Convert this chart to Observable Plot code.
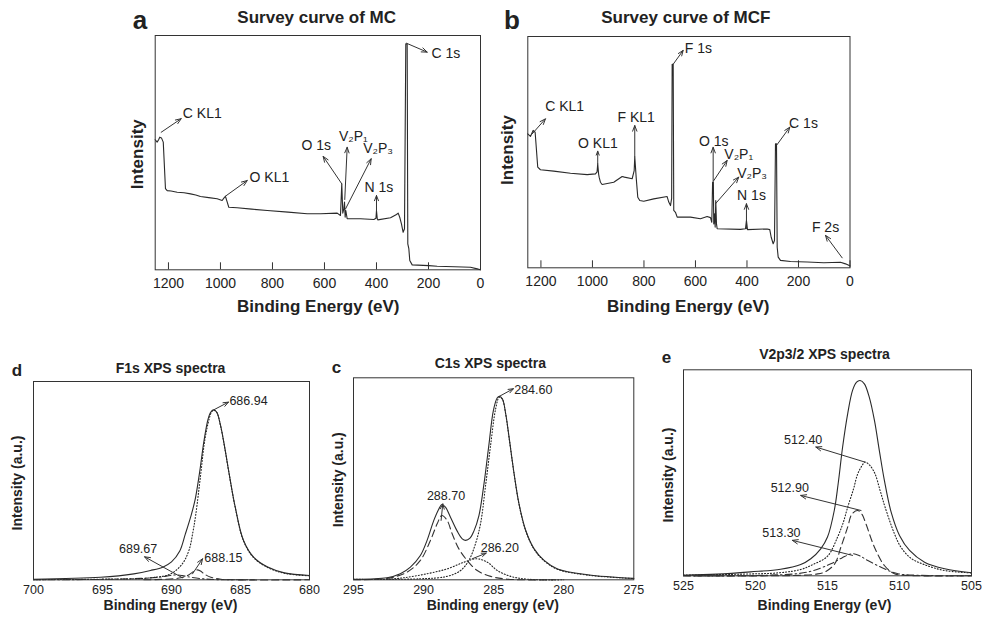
<!DOCTYPE html>
<html>
<head>
<meta charset="utf-8">
<script src="https://cdn.jsdelivr.net/npm/d3@7"></script>
<script src="https://cdn.jsdelivr.net/npm/@observablehq/plot@0.6"></script>
<style>
  html, body { margin: 0; padding: 0; background: #fff; }
  #fig { position: relative; width: 982px; height: 620px; overflow: hidden; background: #fff; }
  #fig .panel { position: absolute; }
  #fig svg.captions { position: absolute; left: 0; top: 0; pointer-events: none; }
</style>
</head>
<body>
<div id="fig"></div>
<script>
// ---------------------------------------------------------------------------
// Survey spectra: [binding energy (eV), intensity (arb. units, 0-100)]
// ---------------------------------------------------------------------------
const surveyMC = [
  [1251,55.5],[1243.5,54.5],[1238,55.5],[1233.5,56.6],[1227,56.3],[1220,54.5],[1211.5,34.6],[1205,33.8],
  [1190,33.6],[1166.5,33.1],[1140,32.9],[1115,32.4],[1095,31.9],[1077,31.3],[1045,30.8],[1012.7,30.3],
  [993.5,29.6],[987,30.6],[981,31.4],[974,28.9],[968,26.7],[936,26.5],[880,25.9],[820,25.3],[740,24.6],
  [666.5,23.9],[615,23.9],[551,24.2],[538.5,23.2],[533.5,36.7],[529.6,24.2],[525.6,26],[523,28.9],
  [520.5,22.5],[518,25.3],[512.7,21.8],[461.5,21.8],[410,21.5],[402,22],[400,25.3],[397,21.8],[395,21.3],
  [346,22.2],[323,23.6],[316.5,24.2],[310,22.2],[304,19.6],[297.5,16],[292.3,17.5],[287.3,96.5],
  [282,96.4],[279.6,11.1],[275.6,9],[272,4],[262.7,2.1],[198.7,1.8],[166.7,1.5],[100,1.3],[38.5,1.1],
  [12.7,0.4],[0,0]
];

const surveyMCF = [
  [1251.3,57.9],[1240.8,56.8],[1230.3,59.4],[1222.5,58.6],[1212.4,43.5],[1201.9,42.4],[1150.3,41.8],
  [1085.4,40.9],[1020.6,40.3],[988.3,40.6],[982,41.5],[979.5,45],[976,40.5],[974,39.2],[969,37],
  [962.4,36],[917.3,37],[884.7,39.5],[875.7,39.2],[845.8,38.5],[838,42],[835.7,48],[832,42],[830.3,39.2],
  [824,30.5],[816.3,29.1],[800.8,28.8],[762,29.8],[710,30.8],[703.7,28.4],[697,26.9],[692.5,30],
  [690.5,88],[686.5,88],[684.3,24.8],[677.7,24],[671,21.9],[619.4,21.9],[580.6,21.2],[554.6,22.2],
  [541.7,21.7],[536.7,19.7],[533.5,37],[530.5,37],[529,19],[526.2,23.3],[523.5,17.6],[521.2,29.1],
  [518.4,19],[515.7,16.9],[425.2,16.6],[405.8,16.9],[402,20.4],[398,16.5],[321.6,16.8],[311.5,16.5],
  [306,13.2],[298.3,10.4],[293.2,11.8],[289.3,53.6],[285.4,53.6],[282.7,8.9],[278.8,4.6],[270,3.2],
  [231,2.7],[166.2,2.5],[101.7,2.2],[36.9,2.4],[17.5,1.7],[0.8,0.9]
];

// Peak assignments: arrow from the peak to the label, label centre
const surveyMCNotes = [
  {text: "C KL1", from: [1228, 58.7],  to: [1151, 64.5],  at: [1070, 66.6]},
  {text: "O KL1", from: [981, 31.4],   to: [897, 38.1],   at: [812, 39.5]},
  {text: "O 1s",  from: [533.5, 36.7], to: [605, 48.4],   at: [631.5, 53]},
  {text: "V₂P₁",  from: [522, 30],     to: [512.7, 52.3], at: [489, 56.9]},
  {text: "V₂P₃",  from: [519, 26],     to: [420.4, 47.4], at: [394, 51.6]},
  {text: "N 1s",  from: [400, 24.6],   to: [400, 31.7],   at: [391, 35]},
  {text: "C 1s",  from: [284.6, 96.7], to: [205, 92.9],   at: [133.5, 92.2]}
];

const surveyMCFNotes = [
  {text: "C KL1", from: [1234, 57.9],  to: [1182.5, 64.4], at: [1108, 69.7]},
  {text: "O KL1", from: [979.5, 45],   to: [979.5, 50.4],  at: [979, 53.6]},
  {text: "F KL1", from: [835.7, 48],   to: [835.7, 61.5],  at: [830, 64.8]},
  {text: "F 1s",  from: [686.6, 88],   to: [647.8, 94],    at: [589, 94.7]},
  {text: "O 1s",  from: [531.3, 37],   to: [531.3, 52.1],  at: [529, 54.7]},
  {text: "V₂P₁",  from: [529, 37.7],   to: [477, 46.4],    at: [432, 49]},
  {text: "V₂P₃",  from: [522.3, 27.7], to: [432, 39.2],    at: [380, 40.9]},
  {text: "N 1s",  from: [402, 16.9],   to: [402, 27.7],    at: [382.5, 31.3]},
  {text: "C 1s",  from: [285.4, 52.9], to: [233.8, 60.8],  at: [180.6, 62.3]},
  {text: "F 2s",  from: [30.3, 4.3],   to: [95, 14],       at: [95, 17.6]}
];

const surveyTicks = [1200, 1000, 800, 600, 400, 200, 0];

// ---------------------------------------------------------------------------
// F1s high-resolution spectrum and fitted components
// ---------------------------------------------------------------------------
const f1sEnvelope = [
  [700,0.3],[695.15,1.3],[692.73,3.0],[691.52,4.7],[690.6,6.5],[690.0,9],[689.4,14.5],[689.0,23],
  [688.6,32],[688.3,40],[687.98,53.4],[687.64,70.3],[687.35,81],[687.15,84.6],[686.94,85.7],
  [686.72,84.5],[686.45,78],[686.15,67],[685.82,53.4],[685.38,36.6],[684.78,19.8],[684.05,11.4],
  [683.03,6.4],[681.82,3.5],[680,2.2]
];
const f1s68694 = [
  [700,0.1],[695.15,0.3],[691.52,1],[690.06,3],[689.21,8.1],[688.73,15],[688.45,24],[688.24,33],
  [687.88,53.4],[687.59,70.3],[687.27,81.2],[687.1,84.6],[686.94,85.5],[686.72,84.4],[686.45,77.8],
  [686.15,66.8],[685.82,53.2],[685.38,36.4],[684.78,19.6],[684.05,11.2],[683.03,6.2],[681.82,3.3],[680,2]
];
const f1s68815 = [
  [692,0],[690.8,0.2],[689.33,1],[688.73,2.6],[688.4,4.2],[688.15,5],[687.9,4.4],[687.64,3],
  [687.15,1.3],[686.42,0.3],[685.5,0],[680,0]
];
const f1s68967 = [
  [700,0],[695.15,0.2],[692.24,0.7],[690.8,1.4],[690.1,2.2],[689.67,2.5],[689.2,2.1],[688.85,1.6],
  [687.88,0.6],[686.67,0.1],[684,0]
];
const f1sNotes = [
  {value: 686.94, from: [686.94, 85.7], to: [685.87, 89.6], at: [684.42, 90.1]},
  {value: 689.67, from: [689.2, 1],     to: [691.95, 11.6], at: [692.42, 15.4]},
  {value: 688.15, from: [688.48, 3],    to: [687.75, 10.6], at: [686.24, 11.2]}
];
const f1sTicks = [700, 695, 690, 685, 680];

// ---------------------------------------------------------------------------
// C1s high-resolution spectrum and fitted components
// ---------------------------------------------------------------------------
const c1sEnvelope = [
  [295,0.3],[292.61,1],[291.66,3],[290.94,6.3],[290.23,12],[289.75,19.5],[289.27,29.4],[288.91,35.1],
  [288.7,37.3],[288.44,36],[288.08,31],[287.6,24.1],[287.24,20.3],[287,19.5],[286.69,20.6],[286.41,24.1],
  [286.05,31.8],[285.69,47.5],[285.33,67.3],[285.02,83.8],[284.74,90.1],[284.6,90.8],[284.38,89.6],
  [284.14,82.2],[283.9,70.6],[283.54,52.5],[283.19,37.6],[282.71,24.4],[282.11,15.3],[281.4,9.6],
  [280.44,5.4],[278.29,2.5],[275,0.7]
];
const c1s28460 = [
  [295,0.2],[290.23,0.5],[288.32,1.7],[287.36,4.6],[286.77,9.6],[286.29,18],[285.93,28],[285.57,47],
  [285.21,67],[284.86,84.5],[284.6,90.4],[284.38,89.4],[284.14,82],[283.9,70.4],[283.54,52.3],
  [283.19,37.4],[282.71,24.2],[282.11,15.1],[281.4,9.4],[280.44,5.2],[278.29,2.3],[275,0.6]
];
const c1s28870 = [
  [295,0.1],[292.61,0.7],[291.18,3.8],[290.23,9.6],[289.51,19.5],[289.03,27.7],[288.7,31.8],
  [288.32,29.4],[287.96,22.8],[287.48,15.3],[286.89,9.6],[286.17,4.6],[285.21,1.7],[284.02,0.3],[280.68,0]
];
const c1s28620 = [
  [292.5,0.3],[291.42,1],[289.75,3],[288.32,5.4],[287.12,8.7],[286.2,10.4],[285.45,8.7],[284.74,4.6],
  [283.78,1.7],[282.59,0.3],[280,0]
];
const c1sNotes = [
  {value: 284.60, from: [284.6, 90.8],   to: [283.59, 94.6], at: [282.17, 94]},
  {value: 288.70, from: [288.75, 29.4],  to: [288.63, 37.6], at: [288.4, 41.7]},
  {value: 286.20, from: [286.53, 10.4],  to: [285.53, 13.2], at: [284.56, 15.8]}
];
const c1sTicks = [295, 290, 285, 280, 275];

// ---------------------------------------------------------------------------
// V2p3/2 high-resolution spectrum and fitted components
// ---------------------------------------------------------------------------
const v2pEnvelope = [
  [525,0.3],[522.67,0.8],[520.35,1.9],[518.26,3.2],[516.86,5.5],[516.16,8.3],[515.47,13.1],[515,18.8],
  [514.53,31.7],[514.26,44.7],[513.95,62.5],[513.6,78.6],[513.26,90],[512.98,94],[512.74,94.8],
  [512.44,93.2],[512.1,86.7],[511.74,75.4],[511.4,60.8],[511.05,46.3],[510.58,30.9],[510,19.6],
  [509.3,12.3],[508.26,6.6],[506.86,3.4],[505,1.5]
];
const v2p51240 = [
  [525,0.3],[521,0.8],[518.3,1.5],[516.9,3],[516,5.5],[515,9.5],[514.3,18.8],[513.9,26],[513.6,33.3],
  [513.2,42],[512.9,49.5],[512.6,53.5],[512.4,55.2],[512.05,53.5],[511.7,49.5],[511.35,41.5],[511,33.3],
  [510.35,20.4],[509.9,13.9],[509.2,8.5],[508.3,5.5],[506.9,2.6],[505,1.4]
];
const v2p51290 = [
  [525,0],[517,0.2],[515.8,0.8],[515.2,1.8],[514.5,5.8],[514.07,13.9],[513.6,23.6],[513.3,30],
  [512.9,31.7],[512.6,29.8],[512.33,25.2],[511.74,13.9],[511.05,5],[510.35,1],[509.5,0.2],[505,0]
];
const v2p51330 = [
  [525,0],[519,0.3],[516.4,1.8],[514.77,5.8],[514,8.7],[513.3,10.7],[512.8,9.8],[512.2,7.4],
  [511.05,3.4],[510.1,1],[508.5,0.2],[505,0]
];
const v2pNotes = [
  {value: 512.40, from: [512.4, 55.2],  to: [515.81, 62.5], at: [516.69, 66]},
  {value: 512.90, from: [512.67, 31.7], to: [516.86, 39],   at: [517.62, 42.7]},
  {value: 513.30, from: [513.26, 9.9],  to: [517.44, 17.2], at: [518.2, 20.7]}
];
const v2pTicks = [525, 520, 515, 510, 505];

// ---------------------------------------------------------------------------
// Drawing
// ---------------------------------------------------------------------------
const FONT = '"Liberation Sans", Arial, Helvetica, sans-serif';
const INK = "#222";
const fig = document.getElementById("fig");

const LINE_STYLES = {
  solid:   {stroke: "#2a2a2a", strokeWidth: 1.1},
  dotted:  {stroke: "#222", strokeWidth: 1.1, strokeDasharray: "1,2"},
  dashed:  {stroke: "#333", strokeWidth: 1.1, strokeDasharray: "7,4"},
  dashdot: {stroke: "#333", strokeWidth: 1.1, strokeDasharray: "7,3,1.5,3"}
};

function drawPanel(cfg) {
  const {left, top, width, height, margin, domain, ticks, tickFont, tickPadding,
         innerTicks, series, curve, notes, noteFont, noteText} = cfg;
  const [mt, mr, mb, ml] = margin;
  const innerHeight = height - mt - mb;
  const marks = [
    Plot.axisX({ticks, tickFormat: "d", tickSize: 0, tickPadding, label: null,
                fontSize: tickFont, fill: INK})
  ];
  if (innerTicks) {
    marks.push(Plot.tickX(ticks, {x: d => d, insetTop: innerHeight - 7, stroke: "#333", strokeWidth: 1}));
  }
  for (const s of series) {
    marks.push(Plot.line(s.data, {x: d => d[0], y: d => d[1], curve, ...LINE_STYLES[s.style]}));
  }
  marks.push(Plot.arrow(notes, {
    x1: d => d.from[0], y1: d => d.from[1], x2: d => d.to[0], y2: d => d.to[1],
    stroke: "#333", strokeWidth: 1, headLength: 9, headAngle: 42
  }));
  marks.push(Plot.text(notes, {
    x: d => d.at[0], y: d => d.at[1], text: noteText, fontSize: noteFont, fill: INK
  }));
  marks.push(Plot.frame({stroke: "#333", strokeWidth: 1}));

  const svg = Plot.plot({
    width, height,
    marginTop: mt, marginRight: mr, marginBottom: mb, marginLeft: ml,
    x: {domain},
    y: {domain: [0, 100], axis: null},
    style: {fontFamily: FONT, background: "transparent", color: INK, overflow: "visible"},
    marks
  });
  svg.classList.add("panel");
  svg.style.left = left + "px";
  svg.style.top = top + "px";
  fig.append(svg);
}

// (a) survey of MC
drawPanel({
  left: 120, top: 0, width: 370, height: 300, margin: [35, 10, 30.7, 34.7],
  domain: [1251, 0], ticks: surveyTicks, tickFont: 14, tickPadding: 8, innerTicks: true,
  series: [{data: surveyMC, style: "solid"}], curve: "linear",
  notes: surveyMCNotes, noteFont: 14, noteText: d => d.text
});

// (b) survey of MCF
drawPanel({
  left: 490, top: 0, width: 370, height: 300, margin: [36, 10.5, 32.7, 37.3],
  domain: [1251, 0], ticks: surveyTicks, tickFont: 14, tickPadding: 8, innerTicks: true,
  series: [{data: surveyMCF, style: "solid"}], curve: "linear",
  notes: surveyMCFNotes, noteFont: 14, noteText: d => d.text
});

// (d) F1s
drawPanel({
  left: 0, top: 340, width: 320, height: 270, margin: [41, 11, 30.7, 33],
  domain: [700, 680], ticks: f1sTicks, tickFont: 12.5, tickPadding: 5, innerTicks: false,
  series: [
    {data: f1s68967, style: "dashdot"},
    {data: f1s68815, style: "dashed"},
    {data: f1s68694, style: "dotted"},
    {data: f1sEnvelope, style: "solid"}
  ],
  curve: "catmull-rom",
  notes: f1sNotes, noteFont: 12.5, noteText: d => d.value.toFixed(2)
});

// (c) C1s
drawPanel({
  left: 320, top: 340, width: 330, height: 270, margin: [37.3, 16.7, 30.7, 33],
  domain: [295, 275], ticks: c1sTicks, tickFont: 12.5, tickPadding: 5, innerTicks: false,
  series: [
    {data: c1s28620, style: "dotted"},
    {data: c1s28870, style: "dashed"},
    {data: c1s28460, style: "dotted"},
    {data: c1sEnvelope, style: "solid"}
  ],
  curve: "catmull-rom",
  notes: c1sNotes, noteFont: 12.5, noteText: d => d.value.toFixed(2)
});

// (e) V2p3/2
drawPanel({
  left: 650, top: 340, width: 332, height: 270, margin: [29.3, 11, 34.7, 33],
  domain: [525, 505], ticks: v2pTicks, tickFont: 12.5, tickPadding: 5, innerTicks: false,
  series: [
    {data: v2p51330, style: "dashdot"},
    {data: v2p51290, style: "dashed"},
    {data: v2p51240, style: "dotted"},
    {data: v2pEnvelope, style: "solid"}
  ],
  curve: "catmull-rom",
  notes: v2pNotes, noteFont: 12.5, noteText: d => d.value.toFixed(2)
});

// Panel letters, titles and axis titles
const captions = [
  {t: "a", x: 132.7, y: 29.3, size: 26, anchor: "start"},
  {t: "b", x: 504, y: 29.3, size: 26, anchor: "start"},
  {t: "Survey curve of MC", x: 316.7, y: 23, size: 17, anchor: "middle"},
  {t: "Survey curve of MCF", x: 685.8, y: 23, size: 17, anchor: "middle"},
  {t: "Intensity", x: 143.3, y: 154.2, size: 17, anchor: "middle", rotate: true},
  {t: "Intensity", x: 513, y: 150, size: 17, anchor: "middle", rotate: true},
  {t: "Binding Energy (eV)", x: 318.3, y: 311.7, size: 17, anchor: "middle"},
  {t: "Binding Energy (eV)", x: 688.3, y: 311.7, size: 17, anchor: "middle"},

  {t: "d", x: 11.7, y: 376, size: 17, anchor: "start"},
  {t: "c", x: 331.7, y: 373.3, size: 17, anchor: "start"},
  {t: "e", x: 661.7, y: 362.7, size: 17, anchor: "start"},
  {t: "F1s XPS spectra", x: 170.5, y: 372.7, size: 14, anchor: "middle"},
  {t: "C1s XPS spectra", x: 490.3, y: 368.3, size: 14, anchor: "middle"},
  {t: "V2p3/2 XPS spectra", x: 824.5, y: 359.3, size: 14, anchor: "middle"},
  {t: "Intensity (a.u.)", x: 22, y: 483, size: 14, anchor: "middle", rotate: true},
  {t: "Intensity (a.u.)", x: 343, y: 479.7, size: 14, anchor: "middle", rotate: true},
  {t: "Intensity (a.u.)", x: 672.5, y: 475, size: 14, anchor: "middle", rotate: true},
  {t: "Binding Energy (eV)", x: 170.5, y: 609.5, size: 14, anchor: "middle"},
  {t: "Binding energy (eV)", x: 492.8, y: 609.5, size: 14, anchor: "middle"},
  {t: "Binding Energy (eV)", x: 824.5, y: 609.5, size: 14, anchor: "middle"}
];

const overlay = d3.select(fig).append("svg")
  .attr("class", "captions")
  .attr("width", 982).attr("height", 620);

overlay.selectAll("text").data(captions).join("text")
  .attr("transform", d => d.rotate ? `translate(${d.x},${d.y}) rotate(-90)` : `translate(${d.x},${d.y})`)
  .attr("text-anchor", d => d.anchor)
  .attr("font-family", FONT)
  .attr("font-weight", "bold")
  .attr("font-size", d => d.size)
  .attr("fill", INK)
  .text(d => d.t);
</script>
</body>
</html>
